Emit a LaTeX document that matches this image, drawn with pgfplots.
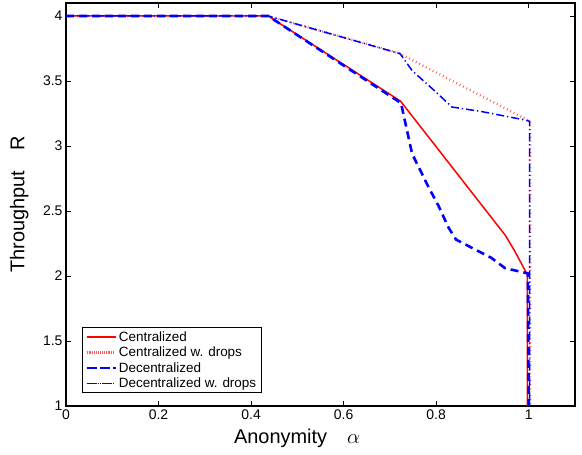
\documentclass[border=0pt]{standalone}
\usepackage{fontspec}
\setmainfont{Liberation Sans}
\usepackage{pgfplots}
\pgfplotsset{compat=1.18}

\begin{document}
\begin{tikzpicture}
\begin{axis}[
    name=ax,
    scale only axis,
    width=509bp, height=403bp,
    xmin=0, xmax=1.1, ymin=1, ymax=4.1,
    xtick={0,0.2,0.4,0.6,0.8,1},
    ytick={1,1.5,2,2.5,3,3.5,4},
    xticklabels={0,0.2,0.4,0.6,0.8,1},
    yticklabels={1,1.5,2,2.5,3,3.5,4},
    tick align=inside,
    major tick length=5bp,
    tick style={black, line width=0.6bp},
    axis line style={line width=1.1bp},
    ticklabel style={font=\fontsize{14}{15}\selectfont},
    /pgf/number format/assume math mode=true,
    xlabel={Anonymity\hspace{20bp}$\alpha$},
    ylabel={Throughput\hspace{20bp}R},
    label style={font=\fontsize{20}{22}\selectfont},
    x label style={at={(axis description cs:0.454,-0.08)}, anchor=center},
    y label style={at={(axis description cs:-0.092,0.5)}, anchor=center},
    legend style={at={(0.031,0.032)}, anchor=south west,
        font=\fontsize{13.5}{15}\selectfont, draw=black, line width=1bp,
        inner xsep=3bp, inner ysep=1.5bp, row sep=0.3bp},
    legend cell align=left,
    legend image code/.code={\path (-2bp,0bp) -- (27bp,0bp); \draw[#1] (0bp,0bp) -- (23bp,0bp);},
]
\addplot[red, line width=1.5bp] coordinates {
    (0,4) (0.437,4) (0.723,3.345) (0.950,2.31) (0.970,2.19) (0.985,2.09) (0.997,2.01) (0.997,1)
};
\addplot[red!65, line width=2.4bp, dash pattern=on 0.8bp off 3bp] coordinates {
    (0,4) (0.437,4) (0.719,3.715) (1.003,3.19) (1.003,1)
};
\addplot[blue, line width=2.6bp, dash pattern=on 8bp off 5bp] coordinates {
    (0,4) (0.437,4) (0.724,3.33) (0.748,2.94) (0.784,2.68) (0.805,2.54) (0.827,2.37) (0.843,2.28)
    (0.870,2.23) (0.919,2.14) (0.949,2.06) (0.998,2.02) (1.0,1)
};
\addplot[blue, line width=1.5bp, dash pattern=on 8bp off 3bp on 1.3bp off 3bp] coordinates {
    (0,4) (0.437,4) (0.722,3.71) (0.748,3.58) (0.798,3.42) (0.834,3.30) (0.898,3.265) (0.992,3.20) (1.002,3.19) (1.002,1)
};
\legend{Centralized, Centralized w. drops, Decentralized, Decentralized w. drops}
\end{axis}
\pgfresetboundingbox
\path[use as bounding box] ([shift={(-66bp,-49bp)}]ax.south west) rectangle ([shift={(7bp,3bp)}]ax.north east);
\end{tikzpicture}
\end{document}
